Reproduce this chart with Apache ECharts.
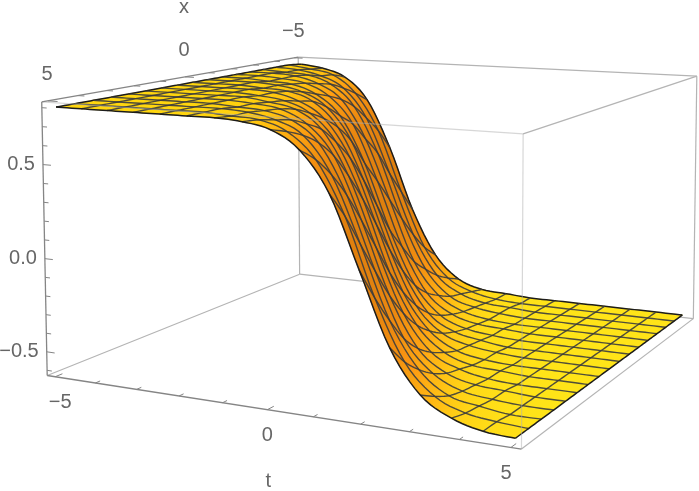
<!DOCTYPE html>
<html>
<head>
<meta charset="utf-8">
<title>Surface</title>
<style>
  html, body { margin: 0; padding: 0; background: #fff; }
  #main { width: 699px; height: 491px; }
</style>
<script src="https://cdn.jsdelivr.net/npm/echarts@6/dist/echarts.min.js"></script>
</head>
<body>
<div id="main"></div>
<script>
var tValues = [-5, -4.375, -3.75, -3.125, -2.5, -1.875, -1.25, -0.625, 0, 0.625, 1.25, 1.875, 2.5, 3.125, 3.75, 4.375, 5];
var xValues = [-5, -4.375, -3.75, -3.125, -2.5, -1.875, -1.25, -0.625, 0, 0.625, 1.25, 1.875, 2.5, 3.125, 3.75, 4.375, 5];

// height, one row per x value, one column per t value
var zRows = [
  [.79, .77, .72, .58, .28, -.11, -.39, -.53, -.58, -.59, -.60, -.60, -.60, -.60, -.60, -.60, -.60],
  [.80, .78, .75, .64, .41, .03, -.31, -.49, -.56, -.59, -.60, -.60, -.60, -.60, -.60, -.60, -.60],
  [.80, .79, .76, .69, .51, .17, -.20, -.44, -.54, -.58, -.59, -.60, -.60, -.60, -.60, -.60, -.60],
  [.80, .79, .78, .73, .60, .32, -.07, -.37, -.52, -.57, -.59, -.60, -.60, -.60, -.60, -.60, -.60],
  [.80, .80, .79, .75, .66, .43, .07, -.29, -.48, -.56, -.59, -.60, -.60, -.60, -.60, -.60, -.60],
  [.80, .80, .79, .77, .70, .54, .21, -.17, -.43, -.54, -.58, -.59, -.60, -.60, -.60, -.60, -.60],
  [.80, .80, .79, .78, .73, .61, .34, -.04, -.35, -.51, -.57, -.59, -.60, -.60, -.60, -.60, -.60],
  [.80, .80, .80, .79, .76, .68, .49, .13, -.23, -.46, -.55, -.58, -.60, -.60, -.60, -.60, -.60],
  [.80, .80, .80, .79, .78, .73, .59, .30, -.08, -.38, -.52, -.57, -.59, -.60, -.60, -.60, -.60],
  [.80, .80, .80, .80, .79, .75, .66, .45, .09, -.27, -.47, -.56, -.59, -.60, -.60, -.60, -.60],
  [.80, .80, .80, .80, .79, .77, .71, .56, .26, -.13, -.40, -.53, -.58, -.59, -.60, -.60, -.60],
  [.80, .80, .80, .80, .80, .78, .75, .65, .41, .04, -.30, -.49, -.56, -.59, -.60, -.60, -.60],
  [.80, .80, .80, .80, .80, .79, .77, .70, .54, .21, -.17, -.43, -.54, -.58, -.59, -.60, -.60],
  [.80, .80, .80, .80, .80, .79, .78, .74, .63, .37, -.01, -.34, -.50, -.57, -.59, -.60, -.60],
  [.80, .80, .80, .80, .80, .80, .79, .76, .69, .50, .16, -.21, -.44, -.55, -.58, -.60, -.60],
  [.80, .80, .80, .80, .80, .80, .79, .78, .73, .60, .33, -.06, -.36, -.51, -.57, -.59, -.60],
  [.80, .80, .80, .80, .80, .80, .80, .79, .76, .67, .47, .11, -.25, -.46, -.55, -.59, -.60]
];

var tTicks = [-5, -4, -3, -2, -1, 0, 1, 2, 3, 4, 5];
var xTicks = [-5, -4, -3, -2, -1, 0, 1, 2, 3, 4, 5];
var zTicks = [-0.6, -0.5, -0.4, -0.3, -0.2, -0.1, 0, 0.1, 0.2, 0.3, 0.4, 0.5, 0.6, 0.7, 0.8];
var tLabels = [-5, 0, 5];
var xLabels = [-5, 0, 5];
var zLabels = [-0.5, 0, 0.5];

// plot box limits
var T = 5.2, X = 5.2, ZT = 0.83, ZB = -0.628;

// camera calibration: box points and where they land on the page
var cameraFit = [
  [-T,  X, ZT,  42, 102], [-T, -X, ZT, 298,  57], [T, -X, ZT, 697,  76], [T,  X, ZT, 523, 134],
  [-T,  X, ZB,  47, 376], [-T, -X, ZB, 300, 274], [T, -X, ZB, 693, 319], [T,  X, ZB, 522, 449],
  [0,  X, ZB, 267, 409], [-T, 0, ZT, 185, 77]
];

function scaled(p) {
  return [p[0] / T, p[1] / X, (p[2] - 0.1) / 0.73];
}

function solve(A, b) {
  var n = b.length;
  for (var c = 0; c < n; c++) {
    var best = c;
    for (var r = c + 1; r < n; r++)
      if (Math.abs(A[r][c]) > Math.abs(A[best][c])) best = r;
    var tmp = A[c]; A[c] = A[best]; A[best] = tmp;
    var tb = b[c]; b[c] = b[best]; b[best] = tb;
    for (var r = c + 1; r < n; r++) {
      var f = A[r][c] / A[c][c];
      for (var k = c; k < n; k++) A[r][k] -= f * A[c][k];
      b[r] -= f * b[c];
    }
  }
  var out = [];
  for (var r = n - 1; r >= 0; r--) {
    var s = b[r];
    for (var k = r + 1; k < n; k++) s -= A[r][k] * out[k];
    out[r] = s / A[r][r];
  }
  return out;
}

// least squares for the 11 numbers of a projective camera
function fitCamera(pts) {
  var A = [], b = [];
  for (var i = 0; i < 11; i++) {
    A[i] = [];
    b[i] = 0;
    for (var j = 0; j < 11; j++) A[i][j] = 0;
  }
  function add(row, rhs) {
    for (var i = 0; i < 11; i++) {
      b[i] += row[i] * rhs;
      for (var j = 0; j < 11; j++) A[i][j] += row[i] * row[j];
    }
  }
  pts.forEach(function (p) {
    var s = scaled(p), u = p[3], v = p[4];
    add([s[0], s[1], s[2], 1, 0, 0, 0, 0, -u * s[0], -u * s[1], -u * s[2]], u);
    add([0, 0, 0, 0, s[0], s[1], s[2], 1, -v * s[0], -v * s[1], -v * s[2]], v);
  });
  return solve(A, b);
}

var cam = fitCamera(cameraFit);

function project(t, x, z) {
  var s = scaled([t, x, z]);
  var w = cam[8] * s[0] + cam[9] * s[1] + cam[10] * s[2] + 1;
  return [
    (cam[0] * s[0] + cam[1] * s[1] + cam[2] * s[2] + cam[3]) / w,
    (cam[4] * s[0] + cam[5] * s[1] + cam[6] * s[2] + cam[7]) / w
  ];
}

var boxBack = [
  [-T, -X, ZT, -T, -X, ZB], [-T, -X, ZB, T, -X, ZB], [-T, -X, ZB, -T, X, ZB],
  [-T, -X, ZT, T, -X, ZT], [T, -X, ZT, T, -X, ZB]
];
var boxFront = [[T, X, ZT, T, -X, ZT], [T, X, ZB, T, -X, ZB]];
var boxOverSheet = [[-T, X, ZT, T, X, ZT], [T, X, ZT, T, X, ZB]];
var boxAxes = [
  [-T, X, ZT, -T, -X, ZT], [-T, X, ZT, -T, X, ZB], [-T, X, ZB, T, X, ZB]
];

var tickSegs = [];
tTicks.forEach(function (t) {
  var len = t % 5 === 0 ? 0.24 : 0.16;
  tickSegs.push([t, X, ZB, t, X - len, ZB]);
});
xTicks.forEach(function (x) {
  var len = x % 5 === 0 ? 0.24 : 0.16;
  tickSegs.push([-T, x, ZT, -T + len, x, ZT]);
});
zTicks.forEach(function (z) {
  var major = Math.abs(Math.round(z * 10)) % 5 === 0;
  tickSegs.push([-T, X, z, -T + (major ? 0.2 : 0.12), X, z]);
});

var textItems = [];
function addText(text, at, dx, dy, align) {
  var p = project(at[0], at[1], at[2]);
  textItems.push({ text: text, x: p[0] + dx, y: p[1] + dy, align: align });
}
function minus(v, digits) {
  var s = Math.abs(v).toFixed(digits);
  return v < 0 ? '\u2212' + s : s;
}
tLabels.forEach(function (t) {
  addText(minus(t, 0), [t, X, ZB], -t, 26, 'center');
});
xLabels.forEach(function (x) {
  addText(minus(x, 0), [-T, x, ZT], -1, -26, 'center');
});
zLabels.forEach(function (z) {
  addText(minus(z, 1), [-T, X, z], -8, 0, 'right');
});
addText('t', [0, X, ZB], 1, 72, 'center');
addText('x', [-T, 0, ZT], -1, -69, 'center');

function mix(a, b, f) {
  return [0, 1, 2].map(function (k) { return Math.round(a[k] + (b[k] - a[k]) * f); });
}

// yellow on the flats, orange where the sheet drops
var highFlat = [255, 214, 14], lowFlat = [255, 228, 24], midColor = [255, 152, 18], steepColor = [224, 128, 14];
function shadeAt(i, j) {
  var row = zRows[j];
  var lo = Math.max(i - 1, 0), hi = Math.min(i + 1, row.length - 1);
  var s = Math.min(Math.abs(row[hi] - row[lo]) / (hi - lo) / 0.32, 1);
  var flat = mix(lowFlat, highFlat, (row[i] + 0.6) / 1.4);
  var c = s < 0.5 ? mix(flat, midColor, s * 2) : mix(midColor, steepColor, (s - 0.5) * 2);
  return 'rgb(' + c.join(',') + ')';
}

function rowNodes(api, j) {
  return tValues.map(function (t, i) { return api.coord(project(t, xValues[j], zRows[j][i])); });
}

function colNodes(api, i) {
  return xValues.map(function (x, j) { return api.coord(project(tValues[i], x, zRows[j][i])); });
}

// rounds the mesh between its nodes, same job as a line series' smooth
function rounded(nodes, k) {
  var p0 = nodes[Math.max(k - 1, 0)], p1 = nodes[k], p2 = nodes[k + 1], p3 = nodes[Math.min(k + 2, nodes.length - 1)];
  var out = [];
  for (var s = 0; s <= 6; s++) {
    var f = s / 6, f2 = f * f, f3 = f2 * f;
    out.push([0, 1].map(function (d) {
      return 0.5 * (2 * p1[d] + (p2[d] - p0[d]) * f +
        (2 * p0[d] - 5 * p1[d] + 4 * p2[d] - p3[d]) * f2 +
        (3 * p1[d] - p0[d] - 3 * p2[d] + p3[d]) * f3);
    }));
  }
  return out;
}

function renderEdgeWith(list, stroke, width) {
  return function (params, api) {
    var e = list[params.dataIndex];
    return {
      type: 'polyline',
      silent: true,
      shape: { points: [api.coord(project(e[0], e[1], e[2])), api.coord(project(e[3], e[4], e[5]))] },
      style: { stroke: stroke, lineWidth: width, fill: null }
    };
  };
}

function renderCell(params, api) {
  var i = api.value(0), j = api.value(1);
  var near = rowNodes(api, j), far = rowNodes(api, j + 1);
  var left = colNodes(api, i), right = colNodes(api, i + 1);
  var pts = rounded(near, i)
    .concat(rounded(right, j))
    .concat(rounded(far, i).reverse())
    .concat(rounded(left, j).reverse());
  var a = near[i], b = near[i + 1], c = far[i + 1], d = far[i];
  var fill = new echarts.graphic.LinearGradient(
    (a[0] + d[0]) / 2, (a[1] + d[1]) / 2, (b[0] + c[0]) / 2, (b[1] + c[1]) / 2,
    [{ offset: 0, color: shadeAt(i, j) }, { offset: 1, color: shadeAt(i + 1, j) }],
    true
  );
  return {
    type: 'polygon',
    silent: true,
    shape: { points: pts },
    style: { fill: fill, stroke: fill, lineWidth: 0.6 }
  };
}

// data: [kind, index], kind 0 is a line of constant x, kind 1 of constant t
function renderMesh(params, api) {
  var kind = api.value(0), n = api.value(1);
  var nodes = kind === 0 ? rowNodes(api, n) : colNodes(api, n);
  var pts = [];
  for (var k = 0; k < nodes.length - 1; k++) pts = pts.concat(rounded(nodes, k));
  var edge = n === 0 || n === 16;
  return {
    type: 'polyline',
    silent: true,
    shape: { points: pts },
    style: { stroke: edge ? '#1c1c1c' : 'rgba(60,60,60,0.9)', lineWidth: edge ? 1.5 : 1.4, fill: null }
  };
}

function renderText(params, api) {
  var item = textItems[params.dataIndex];
  var p = api.coord([item.x, item.y]);
  return {
    type: 'text',
    silent: true,
    style: {
      text: item.text, x: p[0], y: p[1], fill: '#666666',
      font: '20px "Liberation Sans", Arial, sans-serif',
      align: item.align, verticalAlign: 'middle'
    }
  };
}

function customSeries(data, fn) {
  return {
    type: 'custom',
    coordinateSystem: 'cartesian2d',
    animation: false,
    silent: true,
    clip: false,
    data: data,
    renderItem: fn
  };
}

function indexList(list) {
  return list.map(function (e, i) { return [i, 0]; });
}

var cells = [], meshLines = [];
for (var j = 0; j < xValues.length - 1; j++)
  for (var i = 0; i < tValues.length - 1; i++)
    cells.push([i, j]);
for (var n = 0; n < 17; n++) {
  meshLines.push([0, n]);
  meshLines.push([1, n]);
}

var myChart = echarts.init(document.getElementById('main'), null, { renderer: 'canvas' });
myChart.setOption({
  backgroundColor: '#ffffff',
  animation: false,
  grid: { left: 0, right: 0, top: 0, bottom: 0 },
  xAxis: { type: 'value', min: 0, max: 699, show: false },
  yAxis: { type: 'value', min: 0, max: 491, inverse: true, show: false },
  series: [
    customSeries(indexList(boxBack), renderEdgeWith(boxBack, '#b4b4b4', 1.2)),
    customSeries(cells, renderCell),
    customSeries(meshLines, renderMesh),
    customSeries(indexList(boxFront), renderEdgeWith(boxFront, '#b4b4b4', 1.2)),
    customSeries(indexList(boxOverSheet), renderEdgeWith(boxOverSheet, 'rgba(176,176,176,0.5)', 1.2)),
    customSeries(indexList(boxAxes), renderEdgeWith(boxAxes, '#858585', 1.3)),
    customSeries(indexList(tickSegs), renderEdgeWith(tickSegs, '#858585', 1)),
    customSeries(indexList(textItems), renderText)
  ]
});
</script>
</body>
</html>
